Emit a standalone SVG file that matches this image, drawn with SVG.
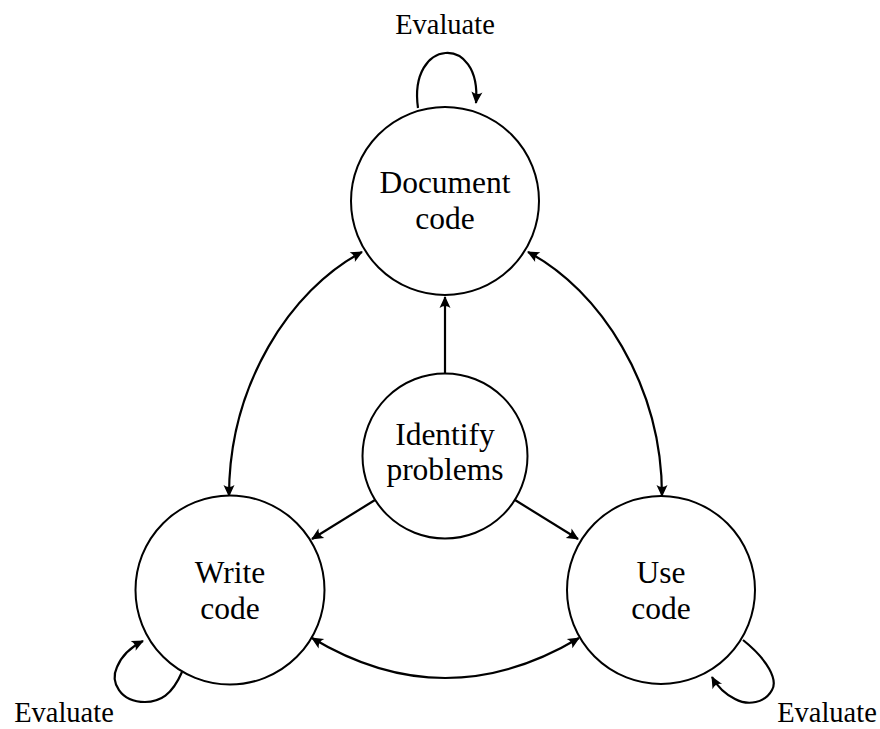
<svg xmlns="http://www.w3.org/2000/svg" width="880" height="729" viewBox="0 0 880 729">
<defs>
<marker id="ah" viewBox="-12 -6 14 12" refX="0" refY="0" markerWidth="14" markerHeight="12" markerUnits="userSpaceOnUse" orient="auto-start-reverse">
<path d="M1,0 L-11,-5.5 Q-7,0 -11,5.5 Z" fill="#000"/>
</marker>
<style>
.node circle{fill:#fff;stroke:#000;stroke-width:2}
.node text,.lbl{font-family:"Liberation Serif","Times New Roman",serif;fill:#000;text-anchor:middle}
.node text{font-size:31.5px}
.lbl{font-size:28.5px}
.edges path{fill:none;stroke:#000;stroke-width:2.2}
</style>
</defs>
<rect width="880" height="729" fill="#fff"/>
<g class="edges">
<path d="M445,373 L445,297" marker-end="url(#ah)"/>
<path d="M375,500 L312,539" marker-end="url(#ah)"/>
<path d="M515,500 L578,539" marker-end="url(#ah)"/>
<path d="M229,496 C229,385 290,290 362,252" marker-start="url(#ah)" marker-end="url(#ah)"/>
<path d="M528,252 C600,290 662,385 662,496" marker-start="url(#ah)" marker-end="url(#ah)"/>
<path d="M312,638 Q445,718 579,638" marker-start="url(#ah)" marker-end="url(#ah)"/>
<path d="M418,108 C408,38 482,33 476,103" marker-end="url(#ah)"/>
<path d="M182,672 C172,695 160,702 145,702 C120,702 110,682 117,667 C122,655 133,646 143,641" marker-end="url(#ah)"/>
<path d="M743,640 C768,660 778,680 772,690 C765,703 748,706 735,699 C725,694 717,686 712,677" marker-end="url(#ah)"/>
</g>
<g id="doc" class="node"><circle cx="445" cy="201" r="94"/><text x="445" y="193">Document</text><text x="445" y="229">code</text></g>
<g id="identify" class="node"><circle cx="445" cy="456" r="82.5"/><text x="445" y="445">Identify</text><text x="445" y="480">problems</text></g>
<g id="write" class="node"><circle cx="230" cy="590" r="94.5"/><text x="230" y="583">Write</text><text x="230" y="619">code</text></g>
<g id="use" class="node"><circle cx="661" cy="590" r="94"/><text x="661" y="583">Use</text><text x="661" y="619">code</text></g>
<text class="lbl" x="445" y="34">Evaluate</text>
<text class="lbl" x="64" y="722">Evaluate</text>
<text class="lbl" x="827" y="722">Evaluate</text>
</svg>
